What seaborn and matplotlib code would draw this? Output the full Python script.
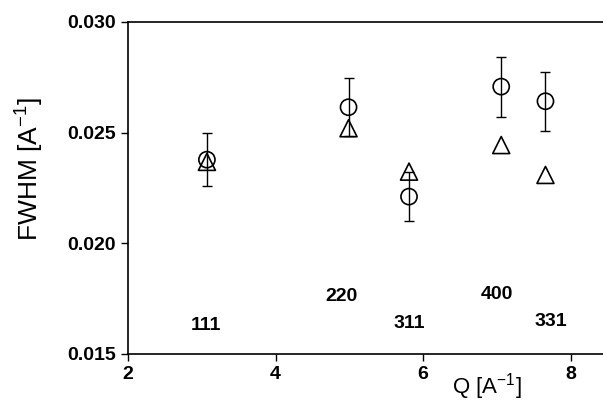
import pandas as pd
import matplotlib
matplotlib.use("Agg")
import matplotlib.pyplot as plt
import seaborn as sns

# Peak widths vs. scattering vector
q = [3.07, 4.99, 5.81, 7.06, 7.66]
fwhm_circle = [0.02378, 0.02615, 0.02211, 0.02708, 0.02642]
fwhm_err = [0.00119, 0.00130, 0.00110, 0.00136, 0.00134]
fwhm_triangle = [0.02368, 0.02520, 0.02324, 0.02444, 0.02309]

# Reflection labels
hkl = ["111", "220", "311", "400", "331"]
hkl_q = [3.06, 4.90, 5.81, 7.00, 7.73]
hkl_y = [0.01631, 0.01758, 0.01640, 0.01767, 0.01645]

df = pd.DataFrame({"Q": q, "circle": fwhm_circle, "triangle": fwhm_triangle})

sns.set_style("ticks")
plt.rcParams['font.family'] = ['Liberation Sans', 'DejaVu Sans']
plt.rcParams.update({"text.color": "black", "axes.labelcolor": "black",
                     "xtick.color": "black", "ytick.color": "black",
                     "axes.edgecolor": "black"})

fig = plt.figure(figsize=(6.03, 4.00), dpi=100)
ax = fig.add_axes([128 / 603, 1 - 354 / 400, 1 - 128 / 603, 332 / 400])

ax.errorbar(q, fwhm_circle, yerr=fwhm_err, fmt="none", ecolor="black",
            elinewidth=1.0, capsize=3.5, capthick=1.0, zorder=1)
sns.scatterplot(data=df, x="Q", y="circle", marker="o", s=135, ax=ax, zorder=3)
sns.scatterplot(data=df, x="Q", y="triangle", marker="^", s=150, ax=ax, zorder=3)
for coll in ax.collections[1:]:
    coll.set_facecolor("none")
    coll.set_edgecolor("black")
    coll.set_linewidth(1.2)

for lab, xq, yv in zip(hkl, hkl_q, hkl_y):
    ax.text(xq, yv, lab, ha="center", va="center", fontsize=14,
            fontweight="bold", color="black")

ax.set_xlim(2, 8.44)
ax.set_ylim(0.015, 0.030)
ax.set_xticks([2, 4, 6, 8])
ax.set_yticks([0.015, 0.020, 0.025, 0.030])
ax.set_yticklabels([f"{v:.3f}" for v in [0.015, 0.020, 0.025, 0.030]])
ax.tick_params(direction="out", length=5, width=1.0, labelsize=14, colors="black")
for t in ax.get_xticklabels() + ax.get_yticklabels():
    t.set_fontweight("bold")

ax.spines["right"].set_visible(False)
for s in ["left", "bottom", "top"]:
    ax.spines[s].set_linewidth(1.2)
    ax.spines[s].set_color("black")

ax.set_xlabel("Q [A$^{\\mathregular{-1}}$]", fontsize=16, color="black")
ax.xaxis.set_label_coords((487 - 128) / 475, -0.05)
ax.set_ylabel("FWHM [A$^{\\mathregular{-1}}$]", fontsize=19, color="black")
ax.yaxis.set_label_coords(-0.175, 0.557)

fig.savefig("out.png", dpi=100)
